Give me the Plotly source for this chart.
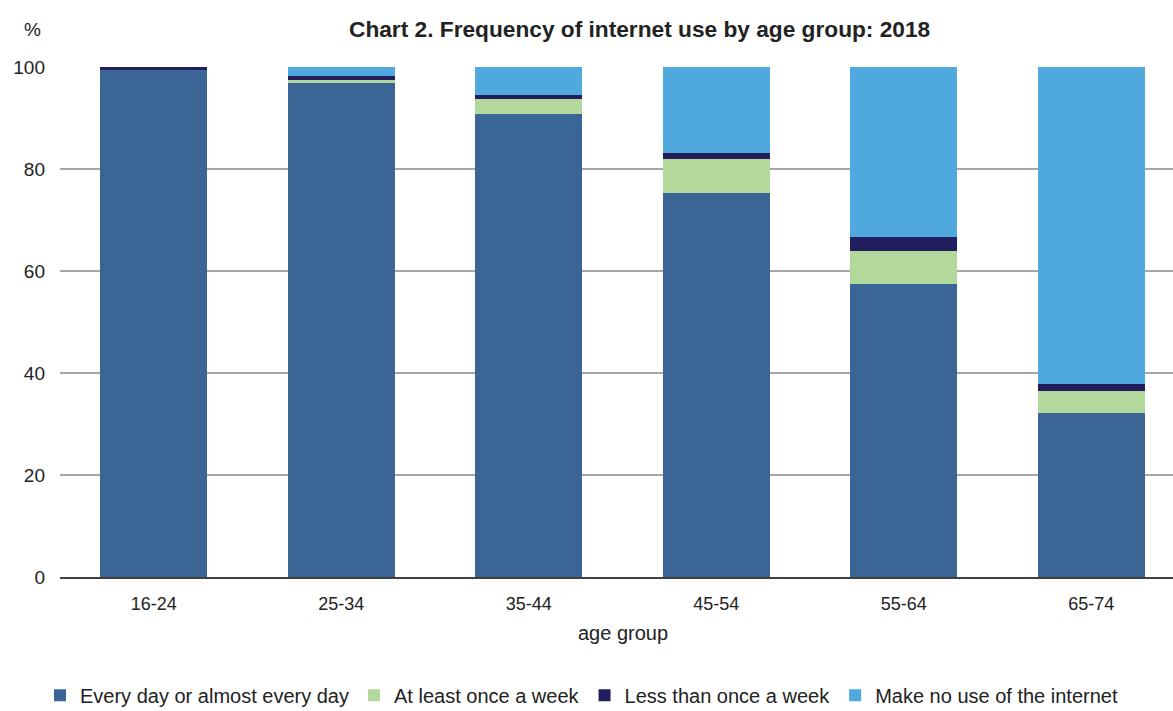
import plotly.graph_objects as go

age_groups = ["16-24", "25-34", "35-44", "45-54", "55-64", "65-74"]
every_day = [99.4, 96.8, 90.7, 75.2, 57.5, 32.2]
weekly = [0.0, 0.6, 3.1, 6.8, 6.4, 4.3]
less_weekly = [0.6, 0.8, 0.7, 1.2, 2.7, 1.3]
no_use = [0.0, 1.8, 5.5, 16.8, 33.4, 62.2]

series = [
    ("Every day or almost every day", every_day, "#3A6595"),
    ("At least once a week", weekly, "#B3D89C"),
    ("Less than once a week", less_weekly, "#221E5E"),
    ("Make no use of the internet", no_use, "#4FA9DE"),
]

FONT = "Liberation Sans, Arial, sans-serif"

W, H = 1173, 711
ML, MR, MT, MB = 60, 0, 67, 134
PW, PH = W - ML - MR, H - MT - MB


def px_to_paper_x(px):
    return (px - ML) / PW


def px_to_paper_y(py):
    return (H - MB - py) / PH


fig = go.Figure()
for name, vals, color in series:
    fig.add_trace(go.Bar(
        x=age_groups, y=vals, name=name,
        marker=dict(color=color, line=dict(width=0)),
    ))

fig.update_layout(
    barmode="stack",
    bargap=0.43,
    width=W, height=H,
    paper_bgcolor="white", plot_bgcolor="white",
    margin=dict(l=ML, r=MR, t=MT, b=MB),
    font=dict(family=FONT, size=18, color="#222222"),
    showlegend=True,
    legend=dict(
        orientation="h",
        xref="container", yref="container",
        x=40 / W, y=0.022, xanchor="left", yanchor="middle",
        font=dict(size=20, color="#222222"),
        traceorder="normal",
    ),
    xaxis=dict(
        range=[-0.5, 5.436],
        showgrid=False, ticks="",
        showline=True, linecolor="#404040", linewidth=1.5,
        tickfont=dict(size=18),
        ticklabelstandoff=10,
    ),
    yaxis=dict(
        range=[0, 100],
        tickvals=[0, 20, 40, 60, 80, 100],
        showgrid=True, gridcolor="#A6A6A6", gridwidth=1.5,
        zeroline=False, showline=False, ticks="",
        tickfont=dict(size=19),
        ticklabelstandoff=14,
    ),
    annotations=[
        dict(text="<b>Chart 2. Frequency of internet use by age group: 2018</b>",
             xref="paper", yref="paper", x=px_to_paper_x(639), y=px_to_paper_y(29),
             xanchor="center", yanchor="middle", showarrow=False,
             font=dict(size=22.7, family=FONT, color="#222222")),
        dict(text="%", xref="paper", yref="paper",
             x=px_to_paper_x(32), y=px_to_paper_y(29), xanchor="center", yanchor="middle",
             showarrow=False, font=dict(size=19, family=FONT, color="#222222")),
        dict(text="age group", xref="paper", yref="paper",
             x=px_to_paper_x(623), y=px_to_paper_y(633), xanchor="center", yanchor="middle",
             showarrow=False, font=dict(size=20, family=FONT, color="#222222")),
    ],
)

fig.write_html("out.html")
